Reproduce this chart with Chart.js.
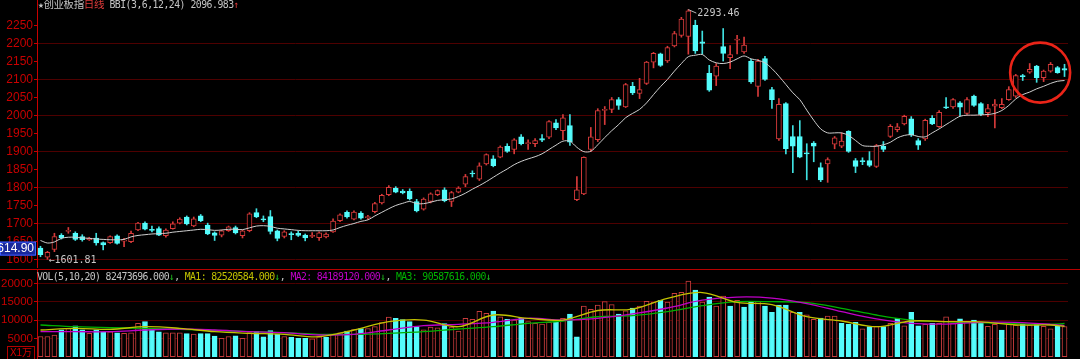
<!DOCTYPE html>
<html>
<head>
<meta charset="utf-8">
<script src="https://cdn.jsdelivr.net/npm/chart.js@4.4.1/dist/chart.umd.min.js"></script>
<style>
  html, body { margin: 0; padding: 0; background: #000; }
  #wrap { position: relative; width: 1080px; height: 359px; overflow: hidden; background: #000; }
  #priceCv { position: absolute; left: 0; top: 0; }
  #volCv { position: absolute; left: 0; top: 270px; }
  #volLine { position: absolute; left: 0; top: 269px; width: 1080px; height: 1px; background: #b80000; }
  .t { position: absolute; white-space: nowrap; font-family: "DejaVu Sans Mono", monospace; font-size: 9.8px; letter-spacing: -0.5px; line-height: 11px; }
  #volTitle { letter-spacing: -0.62px; }
  .cj { font-family: "Noto Sans CJK SC", sans-serif; font-size: 10.5px; letter-spacing: -0.4px; }
  .g { color: #c4c4c4; }
  .r { color: #e03a3a; }
  .y { color: #c2c200; }
  .m { color: #c000c8; }
  .gr { color: #00b400; }
  .dn { color: #20c020; }
  #unit { position: absolute; left: 7px; top: 346px; width: 26px; height: 12px; border: 1px solid #b40000;
          color: #d40000; font-family: "Liberation Sans", "Noto Sans CJK SC", sans-serif; font-size: 10px; line-height: 12px; text-align: center; }
</style>
</head>
<body>
<div id="wrap">
  <canvas id="priceCv" width="1080" height="268"></canvas>
  <div id="volLine"></div>
  <canvas id="volCv" width="1080" height="89"></canvas>
  <div class="t" style="left:38px;top:-2px"><span class="g">★</span><span class="cj g">创业板指</span><span class="cj r">日线</span><span class="g"> BBI(3,6,12,24) 2096.983</span><span class="r">↑</span></div>
  <div class="t" id="volTitle" style="left:37px;top:271px"><span class="g">VOL(5,10,20) 82473696.000</span><span class="dn">↓</span><span class="g">, </span><span class="y">MA1: 82520584.000</span><span class="dn">↓</span><span class="g">, </span><span class="m">MA2: 84189120.000</span><span class="dn">↓</span><span class="g">, </span><span class="gr">MA3: 90587616.000</span><span class="dn">↓</span></div>
  <div id="unit">X1万</div>
</div>
<script>
// daily candles (index points)
const opens = [1633,1608,1629,1668,1679,1674,1665,1656,1661,1648,
  1648,1667,1652,1651,1683,1702,1685,1687,1667,1687,
  1702,1719,1694,1722,1697,1675,1669,1681,1690,1667,
  1681,1731,1714,1720,1681,1665,1673,1674,1669,1665,
  1662,1664,1678,1709,1732,1713,1730,1717,1734,1758,
  1781,1799,1791,1790,1762,1741,1762,1781,1794,1762,
  1788,1810,1841,1824,1866,1880,1885,1915,1906,1941,
  1922,1922,1936,1940,1980,1958,1972,1767,1783,1906,
  1933,2014,2017,2044,2024,2081,2061,2089,2148,2171,
  2151,2193,2222,2219,2250,2204,2117,2109,2191,2160,
  2209,2176,2151,2081,2158,2072,1935,2033,1942,1942,
  1897,1924,1856,1866,1921,1915,1956,1875,1875,1875,
  1859,1915,1942,1961,1977,1991,1931,1935,1992,1969,
  2024,2024,2035,2006,2054,2033,2008,2026,2022,2044,
  2054,2111,2120,2137,2105,2123,2133,2130];
const highs = [1638,1624,1674,1673,1690,1678,1670,1663,1674,1650,
  1667,1670,1660,1680,1704,1706,1694,1692,1686,1706,
  1717,1722,1719,1726,1702,1678,1683,1694,1694,1683,
  1731,1742,1722,1737,1683,1681,1678,1680,1672,1676,
  1678,1675,1714,1728,1736,1736,1734,1724,1760,1782,
  1806,1803,1795,1797,1768,1772,1786,1794,1800,1790,
  1803,1837,1847,1869,1894,1889,1916,1922,1936,1947,
  1933,1936,1947,1986,1989,2003,2003,1831,1886,1967,
  2019,2025,2050,2050,2089,2092,2103,2150,2175,2173,
  2192,2233,2272,2293.46,2264,2234,2139,2144,2241,2194,
  2222,2217,2156,2156,2164,2078,2047,2036,1972,1986,
  1922,1928,1869,1883,1942,1952,1958,1881,1883,1900,
  1920,1928,1975,1978,2001,1997,1936,1990,2000,2014,
  2050,2047,2039,2050,2057,2036,2031,2044,2047,2080,
  2114,2114,2144,2139,2126,2147,2136,2142];
const lows = [1609,1601.81,1623,1658,1674,1654,1652,1654,1641,1628,
  1646,1644,1637,1648,1681,1683,1678,1667,1663,1685,
  1700,1697,1692,1706,1670,1654,1664,1679,1672,1661,
  1678,1717,1706,1672,1653,1661,1656,1665,1653,1662,
  1654,1661,1676,1706,1716,1711,1713,1712,1730,1755,
  1778,1786,1783,1766,1733,1738,1758,1778,1761,1748,
  1786,1803,1830,1820,1863,1858,1883,1898,1894,1919,
  1906,1914,1928,1936,1961,1933,1917,1764,1781,1900,
  1928,1975,2008,2017,2022,2058,2047,2086,2132,2136,
  2147,2190,2217,2170,2172,2170,2067,2083,2151,2130,
  2171,2172,2089,2053,2097,2020,1931,1894,1842,1883,
  1822,1872,1817,1815,1908,1911,1898,1842,1864,1858,
  1856,1900,1939,1955,1974,1942,1906,1931,1975,1967,
  2019,2020,1999,2003,2025,2000,1997,1966,2019,2042,
  2050,2097,2117,2092,2094,2120,2117,2108];
const closes = [1614.9,1621,1665,1662,1682,1657,1656,1661,1647,1642,
  1665,1646,1655,1674,1702,1685,1682,1669,1683,1700,
  1713,1700,1714,1709,1672,1668,1681,1692,1675,1681,
  1728,1719,1711,1679,1660,1678,1670,1668,1661,1668,
  1675,1672,1708,1725,1719,1733,1716,1720,1756,1779,
  1801,1788,1786,1769,1736,1769,1783,1792,1764,1787,
  1799,1831,1838,1861,1892,1861,1913,1901,1933,1922,
  1925,1931,1932,1983,1966,1994,1926,1794,1884,1941,
  2014,2017,2044,2028,2086,2063,2072,2148,2172,2139,
  2188,2227,2267,2290,2179,2200,2070,2137,2172,2169,
  2212,2195,2093,2151,2100,2044,2031,1908,1915,1885,
  1894,1915,1822,1878,1938,1929,1901,1859,1872,1862,
  1917,1906,1970,1969,1998,1947,1918,1987,1977,2009,
  2021,2044,2023,2044,2028,2003,2019,2032,2031,2072,
  2111,2108,2128,2105,2123,2142,2119,2126];
// BBI(3,6,12,24) as drawn
const bbi = [1654,1647,1650,1660,1663,1663,1661,1660,1658,1657,
  1656,1656,1657,1664,1668,1670,1672,1673,1674,1677,
  1679,1681,1683,1685,1684,1682,1683,1685,1685,1684,
  1689,1694,1695,1693,1688,1686,1684,1682,1681,1681,
  1681,1681,1683,1690,1696,1701,1707,1711,1722,1732,
  1742,1751,1757,1762,1756,1756,1760,1765,1767,1769,
  1776,1785,1796,1806,1817,1829,1841,1852,1864,1873,
  1880,1886,1894,1906,1918,1929,1929,1912,1900,1901,
  1919,1939,1958,1975,1994,2006,2017,2035,2058,2080,
  2100,2123,2144,2163,2167,2169,2154,2146,2144,2148,
  2157,2165,2157,2153,2146,2130,2109,2086,2063,2044,
  2015,1987,1963,1952,1952,1952,1945,1931,1917,1915,
  1915,1919,1926,1938,1945,1947,1942,1941,1952,1963,
  1975,1987,1998,2001,2001,2002,2003,2006,2014,2028,
  2046,2058,2065,2074,2081,2089,2095,2096.98];
// volume, unit 万 shares
const volumes = [5500,5500,5900,7300,7700,8400,7300,6400,7300,6800,
  6800,6500,6400,6500,9100,9600,7700,6800,6500,6500,
  6500,6300,6200,6300,6300,5600,5000,5500,5700,5000,
  6600,6900,5450,7100,6200,5500,5300,5000,5000,4900,
  5450,5250,6200,6500,7000,7400,7700,7700,8200,9300,
  10800,10470,10100,9550,8200,7300,8100,7900,9000,8100,
  7000,10470,10200,12400,11800,12460,10900,10200,10000,10500,
  9550,9100,8900,9400,9550,10470,11650,5450,13830,12930,
  14100,15000,14200,11650,12500,13280,13830,15100,14900,15370,
  14900,17280,17560,20640,18190,14900,16270,13830,16500,13830,
  15370,13550,14800,15100,13830,12100,14100,14100,12100,12100,
  11400,10200,10500,11100,11100,9100,8840,9400,7600,8200,
  8200,8200,9100,10470,8450,12100,8450,8840,9100,9100,
  10900,9100,10300,9550,10000,9400,8300,8840,7280,8840,
  8600,8840,8600,8840,8300,7600,8300,8247];
// volume MA lines, read at these candles only
const maIdx = [0,5,10,15,20,25,30,35,40,45,50,55,60,65,70,75,80,85,90,95,100,105,110,115,120,125,130,135,140,145,147];
const ma1 = [7280,7745,7470,8180,7745,6820,6380,6100,5450,7280,9545,10000,8180,11370,10470,10000,12600,13000,15900,17500,14800,14200,10900,9735,8180,9735,9545,9500,8650,8650,8252];
const ma2 = [6820,6820,6820,7280,7550,7280,6820,6545,5918,6100,7280,8450,8835,9380,10470,10000,10470,11650,13280,15400,16270,16000,14500,12270,10300,9108,8900,9380,9380,8835,8419];
const ma3 = [8650,8180,7900,7745,7470,7200,6820,6545,6100,6100,6380,6820,7550,8180,9108,9735,10900,11200,12270,13900,15000,15000,14730,13200,11370,10000,9545,9270,9000,8835,9059];

const days = opens.map((_, i) => 'D' + (i + 1));
const priceTicks = [1600,1650,1700,1750,1800,1850,1900,1950,2000,2050,2100,2150,2200,2250];
const volTicks = [5000,10000,15000,20000];

const RED = '#d63a3a', CYAN = '#54fcfc', AXIS = '#c80000', GRID = '#4e0000';
const up = closes.map((c, i) => c >= opens[i]);
const volUp = closes.map((c, i) => i === 0 || c >= closes[i - 1]);

function sparse(vals) {
  const a = new Array(days.length).fill(null);
  maIdx.forEach((k, j) => { a[k] = vals[j]; });
  return a;
}

function fixAxis(s) { s.width = 37; s.paddingTop = 0; s.paddingBottom = 0; }

const marks = {
  id: 'marks',
  afterDraw(chart) {
    const { ctx, scales: { x, y } } = chart;
    ctx.save();
    ctx.font = '10px "DejaVu Sans Mono"';
    ctx.textBaseline = 'middle';
    // highest high
    const hi = highs.indexOf(Math.max(...highs));
    const hx = x.getPixelForValue(hi), hy = y.getPixelForValue(highs[hi]);
    ctx.strokeStyle = '#b8b8b8'; ctx.lineWidth = 1;
    ctx.beginPath(); ctx.moveTo(hx, hy); ctx.lineTo(hx + 8, hy + 3.5); ctx.stroke();
    ctx.fillStyle = '#c8c8c8';
    ctx.fillText(highs[hi].toFixed(2), hx + 9, hy + 4);
    // lowest low
    const lo = lows.indexOf(Math.min(...lows));
    const lx = x.getPixelForValue(lo), ly = y.getPixelForValue(lows[lo]);
    ctx.fillText('\u2190' + lows[lo].toFixed(2), lx + 1, ly + 1);
    // value box on the axis
    const by = y.getPixelForValue(closes[0]);
    ctx.fillStyle = '#18289c';
    ctx.fillRect(0, by - 13, x.left - 1, 14);
    ctx.strokeStyle = '#3c5cff';
    ctx.strokeRect(0.5, by - 12.5, x.left - 2, 13);
    ctx.beginPath(); ctx.rect(0, by - 13, x.left - 1, 14); ctx.clip();
    ctx.fillStyle = '#ffffff';
    ctx.font = '12px "Liberation Sans"';
    ctx.textAlign = 'right';
    ctx.fillText(closes[0].toFixed(2), x.left - 3, by - 5.5);
    ctx.restore();
    // highlight ring round the last candles
    ctx.save();
    const cx = (x.getPixelForValue(143) + x.getPixelForValue(144)) / 2;
    const cy = y.getPixelForValue(2119);
    ctx.strokeStyle = '#ea2418'; ctx.lineWidth = 2.6;
    ctx.beginPath(); ctx.arc(cx, cy, 30, 0, Math.PI * 2); ctx.stroke();
    ctx.restore();
  }
};

const plainLabel = v => String(v);

new Chart(document.getElementById('priceCv'), {
  type: 'bar',
  data: {
    labels: days,
    datasets: [
      {
        label: 'wick',
        data: lows.map((l, i) => [l, highs[i]]),
        backgroundColor: up.map(u => u ? RED : '#3fe0e0'),
        barThickness: 1, grouped: false, order: 3,
      },
      {
        label: 'body',
        data: opens.map((o, i) => [o, closes[i]]),
        backgroundColor: up.map(u => u ? '#000' : CYAN),
        borderColor: up.map(u => u ? RED : CYAN),
        borderWidth: 1, borderSkipped: false, minBarLength: 1,
        barThickness: 5, grouped: false, order: 2,
      },
      {
        type: 'line', label: 'BBI', data: bbi,
        borderColor: '#cfcfcf', borderWidth: 1, pointRadius: 0, tension: 0.3, order: 1,
      },
    ],
  },
  options: {
    responsive: false, animation: false, devicePixelRatio: 1,
    layout: { padding: { left: 0, right: 12, top: 0, bottom: 0 } },
    plugins: { legend: { display: false }, tooltip: { enabled: false } },
    scales: {
      x: { display: false, offset: true },
      y: {
        min: 1577.8, max: 2320,
        afterBuildTicks: s => { s.ticks = priceTicks.map(v => ({ value: v })); },
        afterFit: fixAxis,
        ticks: { color: AXIS, padding: 1, autoSkip: false, callback: plainLabel, font: { family: 'Liberation Sans', size: 12 } },
        grid: { color: c => (c.tick && c.tick.value % 100 === 0 ? GRID : 'rgba(0,0,0,0)'), tickLength: 3, tickColor: AXIS },
        border: { color: AXIS },
      },
    },
  },
  plugins: [marks],
});

new Chart(document.getElementById('volCv'), {
  type: 'bar',
  data: {
    labels: days,
    datasets: [
      {
        label: 'VOL', data: volumes,
        backgroundColor: volUp.map(u => u ? '#000' : CYAN),
        borderColor: volUp.map(u => u ? '#c83c3c' : CYAN),
        borderWidth: 1, borderSkipped: false, barThickness: 5, order: 4,
      },
      { type: 'line', label: 'MA3', data: sparse(ma3), borderColor: '#00b000', borderWidth: 1.3, pointRadius: 0, tension: 0.35, spanGaps: true, order: 3 },
      { type: 'line', label: 'MA2', data: sparse(ma2), borderColor: '#c000c8', borderWidth: 1.3, pointRadius: 0, tension: 0.35, spanGaps: true, order: 2 },
      { type: 'line', label: 'MA1', data: sparse(ma1), borderColor: '#c2c200', borderWidth: 1.3, pointRadius: 0, tension: 0.35, spanGaps: true, order: 1 },
    ],
  },
  options: {
    responsive: false, animation: false, devicePixelRatio: 1,
    layout: { padding: { left: 0, right: 12, top: 0, bottom: 0 } },
    plugins: { legend: { display: false }, tooltip: { enabled: false } },
    scales: {
      x: { display: false, offset: true },
      y: {
        min: -627, max: 23644,
        afterBuildTicks: s => { s.ticks = volTicks.map(v => ({ value: v })); },
        afterFit: fixAxis,
        ticks: { color: AXIS, padding: 1, autoSkip: false, callback: plainLabel, font: { family: 'Liberation Sans', size: 11.5 } },
        grid: { color: GRID, tickLength: 3, tickColor: AXIS },
        border: { color: AXIS },
      },
    },
  },
});
</script>
</body>
</html>
